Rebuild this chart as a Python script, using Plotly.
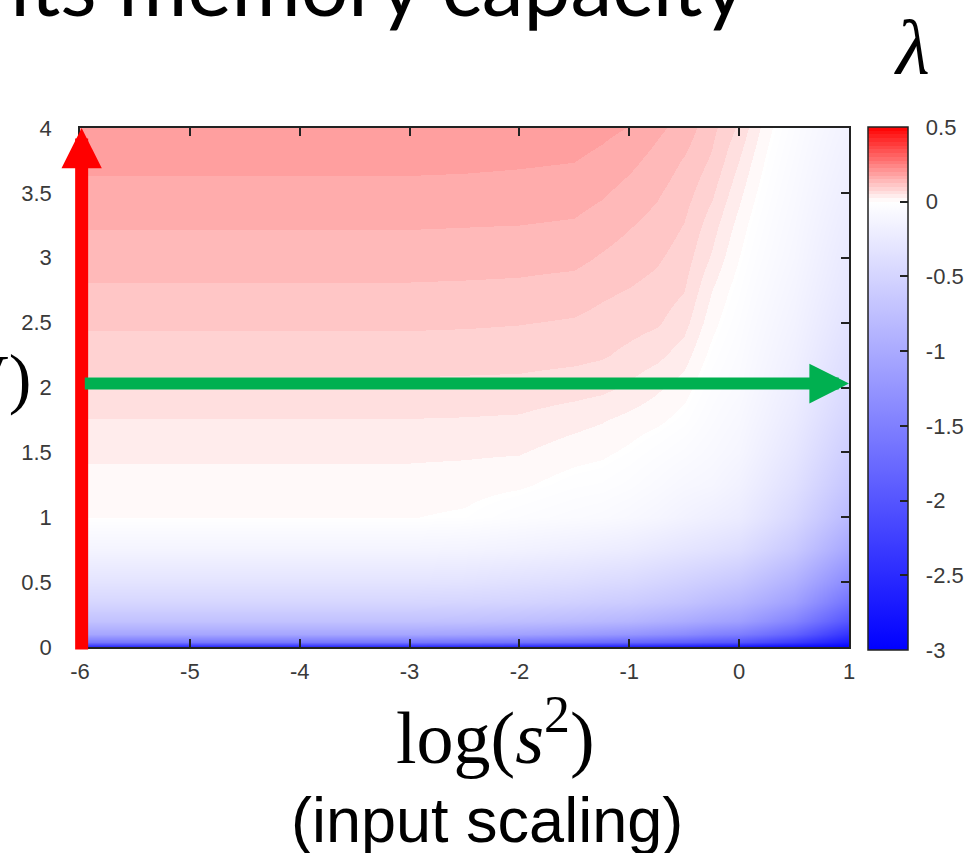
import plotly.graph_objects as go

# ---------------- data ----------------
log_s2 = [-6, -4, -3, -2.5, -2, -1.5, -1.25, -1, -0.75, -0.5, -0.25, 0, 0.25, 0.5, 1]
y_vals = [0, 0.04, 0.1, 0.2, 0.35, 0.5, 0.75, 1, 1.25, 1.5, 1.75, 2,
          2.25, 2.5, 2.75, 3, 3.25, 3.5, 3.75, 4]

lam_xm6 = [-2.6, -1.6, -1.05, -0.72, -0.48, -0.32, -0.13, 0.001, 0.015, 0.030, 0.049, 0.069, 0.087, 0.104, 0.121, 0.137, 0.152, 0.167, 0.182, 0.195]
lam_xm4 = [-2.6, -1.6, -1.05, -0.72, -0.48, -0.32, -0.13, 0.001, 0.015, 0.030, 0.049, 0.069, 0.087, 0.104, 0.121, 0.137, 0.152, 0.167, 0.182, 0.195]
lam_xm3 = [-2.6, -1.6, -1.05, -0.72, -0.48, -0.32, -0.13, 0.001, 0.015, 0.030, 0.049, 0.069, 0.087, 0.104, 0.121, 0.137, 0.152, 0.167, 0.182, 0.195]
lam_xm25 = [-2.62, -1.62, -1.07, -0.73, -0.49, -0.33, -0.14, -0.005, 0.012, 0.029, 0.048, 0.068, 0.086, 0.103, 0.120, 0.136, 0.151, 0.166, 0.181, 0.194]
lam_xm2 = [-2.65, -1.65, -1.1, -0.76, -0.51, -0.36, -0.16, -0.03, 0.005, 0.027, 0.046, 0.067, 0.085, 0.101, 0.119, 0.134, 0.150, 0.164, 0.179, 0.192]
lam_xm15 = [-2.68, -1.7, -1.16, -0.8, -0.55, -0.39, -0.19, -0.05, -0.015, 0.012, 0.034, 0.061, 0.082, 0.097, 0.114, 0.132, 0.147, 0.161, 0.176, 0.189]
lam_xm125 = [-2.7, -1.74, -1.2, -0.83, -0.58, -0.42, -0.21, -0.06, -0.02, 0.006, 0.027, 0.056, 0.078, 0.091, 0.105, 0.122, 0.138, 0.153, 0.168, 0.182]
lam_xm1 = [-2.72, -1.78, -1.24, -0.86, -0.6, -0.44, -0.23, -0.08, -0.035, -0.006, 0.017, 0.045, 0.068, 0.085, 0.099, 0.113, 0.127, 0.141, 0.157, 0.174]
lam_xm075 = [-2.75, -1.83, -1.3, -0.92, -0.65, -0.49, -0.27, -0.11, -0.06, -0.025, 0.007, 0.029, 0.057, 0.078, 0.091, 0.1035, 0.116, 0.128, 0.141, 0.1555]
lam_xm05 = [-2.78, -1.88, -1.36, -0.98, -0.7, -0.54, -0.31, -0.15, -0.09, -0.045, -0.012, 0.012, 0.037, 0.059, 0.076, 0.0875, 0.099, 0.111, 0.123, 0.14]
lam_xm025 = [-2.82, -1.95, -1.46, -1.06, -0.78, -0.6, -0.35, -0.19, -0.11, -0.075, -0.05, -0.03, -0.01, 0.009, 0.025, 0.046, 0.061, 0.079, 0.096, 0.107]
lam_x0 = [-2.85, -2.0, -1.52, -1.12, -0.85, -0.66, -0.4, -0.23, -0.16, -0.11, -0.085, -0.06, -0.045, -0.03, -0.015, 0.0, 0.015, 0.032, 0.05, 0.07]
lam_x025 = [-2.9, -2.15, -1.68, -1.28, -0.98, -0.79, -0.52, -0.34, -0.26, -0.2, -0.16, -0.13, -0.108, -0.088, -0.068, -0.05, -0.035, -0.02, -0.005, 0.01]
lam_x05 = [-2.93, -2.3, -1.85, -1.45, -1.12, -0.92, -0.64, -0.46, -0.36, -0.29, -0.24, -0.2, -0.17, -0.145, -0.122, -0.1, -0.085, -0.07, -0.055, -0.04]
lam_x1 = [-3.0, -2.7, -2.4, -2.0, -1.65, -1.38, -1.05, -0.82, -0.68, -0.58, -0.5, -0.43, -0.38, -0.33, -0.29, -0.26, -0.23, -0.2, -0.175, -0.15]

x_ticks = [-6, -5, -4, -3, -2, -1, 0, 1]
y_ticks = [0, 0.5, 1, 1.5, 2, 2.5, 3, 3.5, 4]
cb_ticks = [0.5, 0, -0.5, -1, -1.5, -2, -2.5, -3]
z_min, z_max = -3, 0.5
x_range = [-6, 1]
y_range = [0, 4]

columns = [lam_xm6, lam_xm4, lam_xm3, lam_xm25, lam_xm2, lam_xm15, lam_xm125,
           lam_xm1, lam_xm075, lam_xm05, lam_xm025, lam_x0, lam_x025, lam_x05, lam_x1]
z = [[col[i] for col in columns] for i in range(len(y_vals))]

# ---------------- colour scale: smooth blue part, stepped red part ----------------
def pos(v):
    return (v - z_min) / (z_max - z_min)

cscale = [[0.0, "rgb(0,0,255)"], [pos(0), "rgb(255,255,255)"]]
step = 0.025
n_steps = int(round(z_max / step))
for k in range(n_steps):
    lo, hi = k * step, (k + 1) * step
    mid = (lo + hi) / 2
    g = int(round(255 * (1 - mid / z_max)))
    c = f"rgb(255,{g},{g})"
    cscale.append([pos(lo) + (1e-9 if k == 0 else 0), c])
    cscale.append([min(pos(hi), 1.0), c])

# plot area in pixels (used only for placing decorations)
PL, PR, PT, PB = 80, 849, 128, 647


def px_to_paper_x(px):
    return (px - PL) / (PR - PL)


def px_to_paper_y(py):
    return (PB - py) / (PB - PT)


def fmt(v):
    return f"{v:g}"

tick_font = dict(family="Liberation Sans, Arial", size=22, color="#3a3a3a")

fig = go.Figure()
fig.add_trace(go.Heatmap(
    x=log_s2, y=y_vals, z=z, zmin=z_min, zmax=z_max,
    zsmooth="best", colorscale=cscale,
    colorbar=dict(
        xref="paper", x=px_to_paper_x(868), xanchor="left",
        yref="paper", y=px_to_paper_y(127), yanchor="top",
        lenmode="fraction", len=(650 - 127) / (PB - PT), thickness=40,
        xpad=0, ypad=0,
        outlinewidth=1.5, outlinecolor="#222",
        ticks="inside", ticklen=8, tickcolor="#222", tickwidth=1.5,
        tickvals=cb_ticks,
        ticktext=["\u00a0\u00a0" + fmt(v) for v in cb_ticks],
        tickfont=tick_font,
    ),
    showscale=True,
))

axis_common = dict(
    showgrid=False, zeroline=False, mirror="ticks", showline=True,
    linecolor="#222", linewidth=1.5, ticks="inside", ticklen=8,
    tickcolor="#222", tickwidth=1.5, tickfont=tick_font,
)
fig.update_xaxes(range=x_range, tickvals=x_ticks, ticktext=[fmt(v) for v in x_ticks],
                 ticklabelstandoff=4, **axis_common)
fig.update_yaxes(range=y_range, tickvals=y_ticks, ticktext=[fmt(v) for v in y_ticks],
                 ticklabelstandoff=22, **axis_common)

# arrows (annotation arrows in data coordinates)
fig.add_annotation(x=-5.985, y=4.0, ax=-5.985, ay=-0.03, xref="x", yref="y",
                   axref="x", ayref="y", text="", showarrow=True,
                   arrowhead=2, arrowsize=0.62, arrowwidth=13, arrowcolor="#ff0000",
                   standoff=0, startstandoff=0)
fig.add_annotation(x=1.0, y=2.03, ax=-5.97, ay=2.03, xref="x", yref="y",
                   axref="x", ayref="y", text="", showarrow=True,
                   arrowhead=2, arrowsize=0.66, arrowwidth=12, arrowcolor="#00b050",
                   standoff=0, startstandoff=0)

# texts
fig.add_annotation(text="its memory capacity", xref="paper", yref="paper",
                   x=px_to_paper_x(748), y=px_to_paper_y(36), xanchor="right", yanchor="bottom",
                   showarrow=False, font=dict(family="Lato", size=84, color="black"))
fig.add_annotation(text="<i>λ</i>", xref="paper", yref="paper",
                   x=px_to_paper_x(912), y=px_to_paper_y(48), xanchor="center", yanchor="middle",
                   showarrow=False, font=dict(family="Liberation Serif", size=78, color="black"))
fig.add_annotation(text="log(V)", xref="paper", yref="paper",
                   x=px_to_paper_x(33), y=px_to_paper_y(378), xanchor="right", yanchor="middle",
                   showarrow=False, font=dict(family="Liberation Serif", size=68, color="black"))
fig.add_annotation(text="log(<i>s</i><sup>2</sup>)", xref="paper", yref="paper",
                   x=px_to_paper_x(495), y=px_to_paper_y(732), xanchor="center", yanchor="middle",
                   showarrow=False, font=dict(family="Liberation Serif", size=74, color="black"))
fig.add_annotation(text="(input scaling)", xref="paper", yref="paper",
                   x=px_to_paper_x(487), y=px_to_paper_y(820), xanchor="center", yanchor="middle",
                   showarrow=False, font=dict(family="Liberation Sans, Arial", size=63, color="black"))

fig.update_layout(
    width=971, height=853,
    margin=dict(l=PL, r=971 - PR, t=PT, b=853 - PB, autoexpand=False),
    paper_bgcolor="white", plot_bgcolor="white",
    showlegend=False,
)

fig.write_html("out.html")
